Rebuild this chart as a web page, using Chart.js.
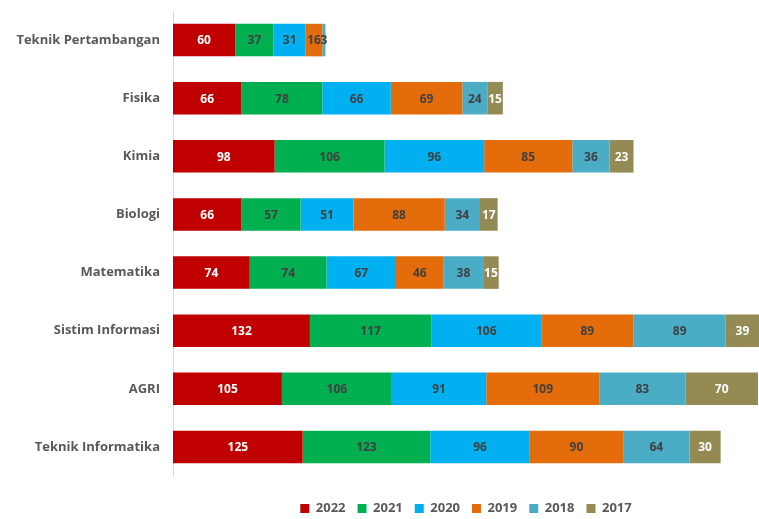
<!DOCTYPE html>
<html>
<head>
<meta charset="utf-8">
<script src="https://cdn.jsdelivr.net/npm/chart.js@4/dist/chart.umd.min.js"></script>
<style>
  html, body { margin: 0; padding: 0; background: #fff; }
  #wrap { width: 759px; height: 519px; }
</style>
</head>
<body>
<div id="wrap"><canvas id="prodiChart" width="759" height="519"></canvas></div>
<script>
// categories (top to bottom)
var prodi = ['Teknik Pertambangan', 'Fisika', 'Kimia', 'Biologi', 'Matematika', 'Sistim Informasi', 'AGRI', 'Teknik Informatika'];

// series values per year
var y2022 = [60, 66, 98, 66, 74, 132, 105, 125];
var y2021 = [37, 78, 106, 57, 74, 117, 106, 123];
var y2020 = [31, 66, 96, 51, 67, 106, 91, 96];
var y2019 = [16, 69, 85, 88, 46, 89, 109, 90];
var y2018 = [3, 24, 36, 34, 38, 89, 83, 64];
var y2017 = [0, 15, 23, 17, 15, 39, 70, 30];

var years = ['2022', '2021', '2020', '2019', '2018', '2017'];
var series = [y2022, y2021, y2020, y2019, y2018, y2017];
var colors = ['#C00000', '#00B050', '#00B0F0', '#E46C0A', '#4BACC6', '#948A54'];
var labelColors = ['#ffffff', '#404040', '#404040', '#404040', '#404040', '#ffffff'];

var fontFam = '"Open Sans", "Liberation Sans", sans-serif';

// draw value labels inside the segments
var barLabels = {
	id: 'barLabels',
	afterDatasetsDraw: function(chart) {
		var ctx = chart.ctx;
		var area = chart.chartArea;
		ctx.save();
		ctx.beginPath();
		ctx.rect(area.left, area.top - 20, area.right - area.left, area.bottom - area.top + 40);
		ctx.clip();
		ctx.font = 'bold 12px ' + fontFam;
		ctx.textAlign = 'center';
		ctx.textBaseline = 'middle';
		chart.data.datasets.forEach(function(ds, i) {
			var meta = chart.getDatasetMeta(i);
			meta.data.forEach(function(bar, j) {
				var v = ds.data[j];
				if (!v) return;
				var left = Math.min(bar.x, bar.base);
				var right = Math.min(Math.max(bar.x, bar.base), area.right);
				ctx.fillStyle = labelColors[i];
				ctx.fillText(String(v), (left + right) / 2, bar.y + 1);
			});
		});
		ctx.restore();
	}
};

var ctx = document.getElementById('prodiChart').getContext('2d');

new Chart(ctx, {
	type: 'bar',
	data: {
		labels: prodi,
		datasets: years.map(function(yr, i) {
			return {
				label: yr,
				data: series[i],
				backgroundColor: colors[i],
				borderWidth: 0,
				barPercentage: 0.56,
				categoryPercentage: 1.0
			};
		})
	},
	options: {
		indexAxis: 'y',
		responsive: false,
		animation: false,
		layout: {
			padding: { top: 11, right: 0, bottom: -6, left: 0 }
		},
		plugins: {
			legend: {
				position: 'bottom',
				fullSize: false,
				labels: {
					boxWidth: 9,
					boxHeight: 9,
					color: '#595959',
					padding: 12,
					font: { family: fontFam, size: 13, weight: 'bold' }
				}
			},
			tooltip: { enabled: false }
		},
		scales: {
			x: {
				stacked: true,
				display: true,
				min: 0,
				max: 565,
				grid: { display: false },
				border: { display: false },
				ticks: { display: false },
				afterFit: function(scale) { scale.height = 14; }
			},
			y: {
				stacked: true,
				grid: { display: false, drawTicks: false },
				border: { display: true, color: '#d9d9d9', width: 1 },
				ticks: {
					color: '#595959',
					padding: 13,
					font: { family: fontFam, size: 13, weight: 'bold' }
				},
				afterFit: function(scale) {
					scale.width = 173;
					scale.paddingTop = 0;
					scale.paddingBottom = 0;
				}
			}
		}
	},
	plugins: [barLabels]
});
</script>
</body>
</html>
